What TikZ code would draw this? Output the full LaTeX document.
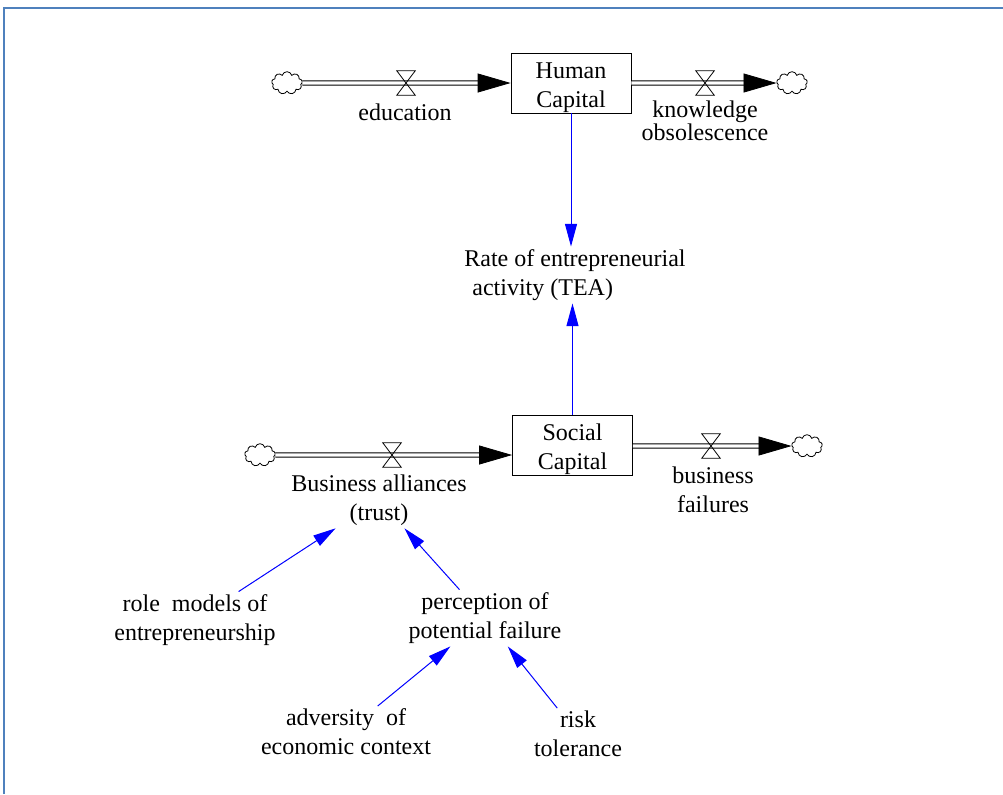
\documentclass[tikz,border=0pt]{standalone}
\usepackage{fontspec}
\setmainfont{Liberation Serif}
\usepackage{xcolor}
\usepackage{tikz}
\usetikzlibrary{arrows.meta}
\usetikzlibrary{shapes.symbols}
\definecolor{frameblue}{RGB}{79,129,189}
\newcommand{\stocklift}{\rule{0pt}{19.5pt}}

\begin{document}
\begin{tikzpicture}[x=0.75pt,y=-0.75pt]
	\useasboundingbox (0,0) rectangle (1003,794);
	\draw[frameblue,line width=1.5pt] (4,794) -- (4,8) -- (1003,8);
	\tikzstyle{every node}=[font=\fontsize{18}{21.75}\selectfont,align=center,inner sep=2pt];
	\tikzstyle{stock}=[draw,rectangle,minimum width=90pt,minimum height=45pt,inner sep=0pt,line width=0.6pt];
	\tikzstyle{source}=[draw,cloud,cloud puffs=9,cloud ignores aspect,minimum width=23pt,minimum height=17pt,inner sep=0pt,line width=0.6pt];
	\tikzstyle{valve}=[minimum width=13.5pt,minimum height=18pt,inner sep=0pt];
	\tikzstyle{pipe}=[double,double distance=2.6pt,line width=0.6pt,-{Triangle[length=24.75pt,width=14.25pt]}];
	\tikzstyle{link}=[blue,line width=0.75pt,-{Triangle[length=17pt,width=9pt]}];
	\node[stock] (hc) at (571,83) {\stocklift Human\\Capital};
	\node[stock] (sc) at (572.5,445) {\stocklift Social\\Capital};
	\node[source] (cl1) at (287,83) {};
	\node[source] (cl2) at (792,83) {};
	\node[source] (cl3) at (260,455) {};
	\node[source] (cl4) at (807,446) {};
	\node[valve] (v1) at (406,83) {};
	\node[valve] (v2) at (705,83) {};
	\node[valve] (v3) at (392,455) {};
	\node[valve] (v4) at (711,446) {};
	\node (edu) at (405,112) {education};
	\node[font=\fontsize{18}{14}\selectfont] (ko) at (705,121) {knowledge\\obsolescence};
	\node[align=left] (tea) at (575,275) {Rate of entrepreneurial\\\hspace*{6pt}activity (TEA)};
	\node (ba) at (379,500) {Business alliances\\(trust)};
	\node (bf) at (713,490) {business\\failures};
	\node (rm) at (195,620) {role\ \ models of\\entrepreneurship};
	\node (pf) at (485,618) {perception of\\potential failure};
	\node (ad) at (346,732) {adversity\ \ of\\economic context};
	\node (rt) at (578,734) {risk\\tolerance};
	\draw[pipe] (cl1) -- (cl1 -| hc.west);
	\draw[pipe] (hc.east |- cl2) -- (cl2);
	\draw[pipe] (cl3) -- (cl3 -| sc.west);
	\draw[pipe] (sc.east |- cl4) -- (cl4);
	\foreach \v in {v1,v2,v3,v4}
		\draw[line width=0.6pt] (\v.north west) -- (\v.north east) -- (\v.south west) -- (\v.south east) -- cycle;
	\draw[link] (hc.south) -- (hc.south |- tea.north);
	\draw[link] (sc.north) -- (sc.north |- tea.south);
	\draw[link] (rm) -- (ba);
	\draw[link] (pf) -- (ba);
	\draw[link] (ad) -- (pf);
	\draw[link] (rt) -- (pf);
\end{tikzpicture}
\end{document}
